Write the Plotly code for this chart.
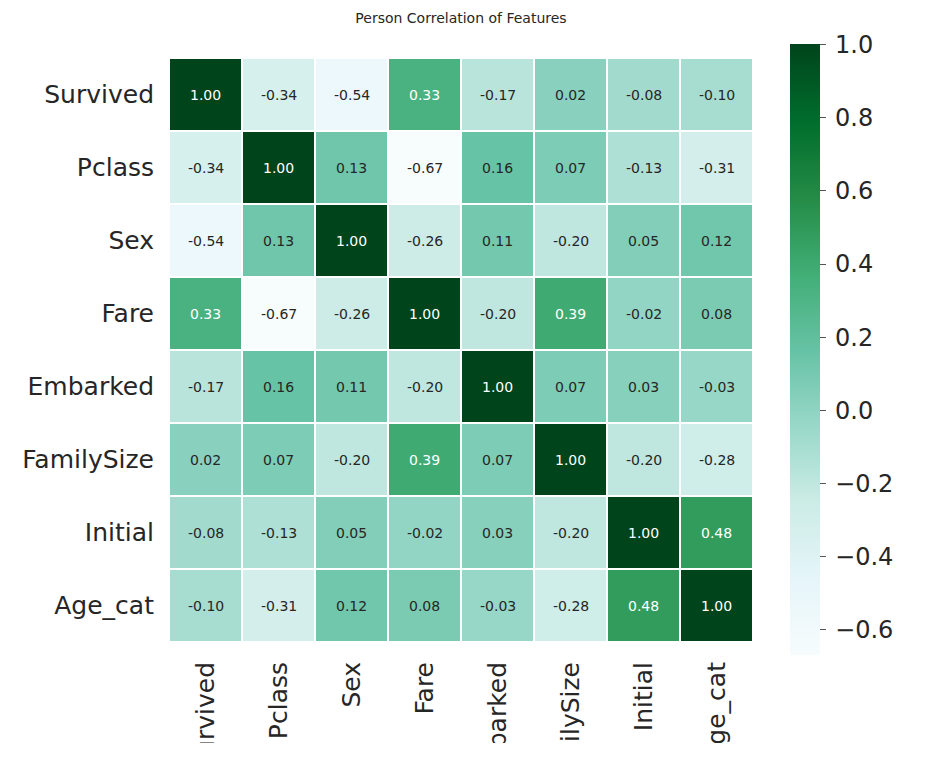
import plotly.graph_objects as go

features = ["Survived", "Pclass", "Sex", "Fare", "Embarked", "FamilySize", "Initial", "Age_cat"]

row_survived = [1.00, -0.34, -0.54, 0.33, -0.17, 0.02, -0.08, -0.10]
row_pclass = [-0.34, 1.00, 0.13, -0.67, 0.16, 0.07, -0.13, -0.31]
row_sex = [-0.54, 0.13, 1.00, -0.26, 0.11, -0.20, 0.05, 0.12]
row_fare = [0.33, -0.67, -0.26, 1.00, -0.20, 0.39, -0.02, 0.08]
row_embarked = [-0.17, 0.16, 0.11, -0.20, 1.00, 0.07, 0.03, -0.03]
row_familysize = [0.02, 0.07, -0.20, 0.39, 0.07, 1.00, -0.20, -0.28]
row_initial = [-0.08, -0.13, 0.05, -0.02, 0.03, -0.20, 1.00, 0.48]
row_agecat = [-0.10, -0.31, 0.12, 0.08, -0.03, -0.28, 0.48, 1.00]

corr = [row_survived, row_pclass, row_sex, row_fare, row_embarked,
        row_familysize, row_initial, row_agecat]

cbar_ticks = [-0.6, -0.4, -0.2, 0.0, 0.2, 0.4, 0.6, 0.8, 1.0]
cbar_text = ["\u2009" + (("\u2212%.1f" % abs(v)) if v < 0 else ("%.1f" % v)) for v in cbar_ticks]

bugn = [
    [0.0, "rgb(247,252,253)"], [0.125, "rgb(229,245,249)"], [0.25, "rgb(204,236,230)"],
    [0.375, "rgb(153,216,201)"], [0.5, "rgb(102,194,164)"], [0.625, "rgb(65,174,118)"],
    [0.75, "rgb(35,139,69)"], [0.875, "rgb(0,109,44)"], [1.0, "rgb(0,68,27)"],
]

FONT = "DejaVu Sans"
DARK = "#262626"
W, H = 920, 735
L, R, T, B = 161, 175, 50, 101
plot_w = W - L - R

fig = go.Figure(go.Heatmap(
    z=corr, x=features, y=features,
    colorscale=bugn, zmin=-0.67, zmax=1.0,
    xgap=2, ygap=2, hoverongaps=False,
    colorbar=dict(
        x=(782 - L) / plot_w, xanchor="left", xpad=0, y=0.5, yanchor="middle", ypad=0,
        len=611, lenmode="pixels", thickness=30, outlinewidth=0,
        tickvals=cbar_ticks, ticktext=cbar_text,
        ticks="outside", ticklen=6, tickwidth=1, tickcolor="#555555",
        tickfont=dict(family=FONT, size=24, color=DARK),
    ),
))

annotations = []
for i, rname in enumerate(features):
    for j, cname in enumerate(features):
        v = corr[i][j]
        annotations.append(dict(
            x=cname, y=rname, text="%.2f" % v, showarrow=False,
            font=dict(family=FONT, size=14, color="white" if v > 0.25 else DARK),
        ))

fig.update_layout(
    width=W, height=H,
    margin=dict(l=L, r=R, t=T, b=B),
    paper_bgcolor="white", plot_bgcolor="white",
    title=dict(text="Person Correlation of Features", x=0.5, xref="paper",
               y=1 - 10 / H, yanchor="middle",
               font=dict(family=FONT, size=14, color=DARK)),
    annotations=annotations,
    xaxis=dict(tickangle=-90, tickfont=dict(family=FONT, size=25, color=DARK),
               showgrid=False, zeroline=False, ticks="", ticklabelstandoff=14,
               automargin=False),
    yaxis=dict(autorange="reversed", tickfont=dict(family=FONT, size=25, color=DARK),
               showgrid=False, zeroline=False, ticks="", ticklabelstandoff=14,
               automargin=False),
)

fig.write_html("out.html")
